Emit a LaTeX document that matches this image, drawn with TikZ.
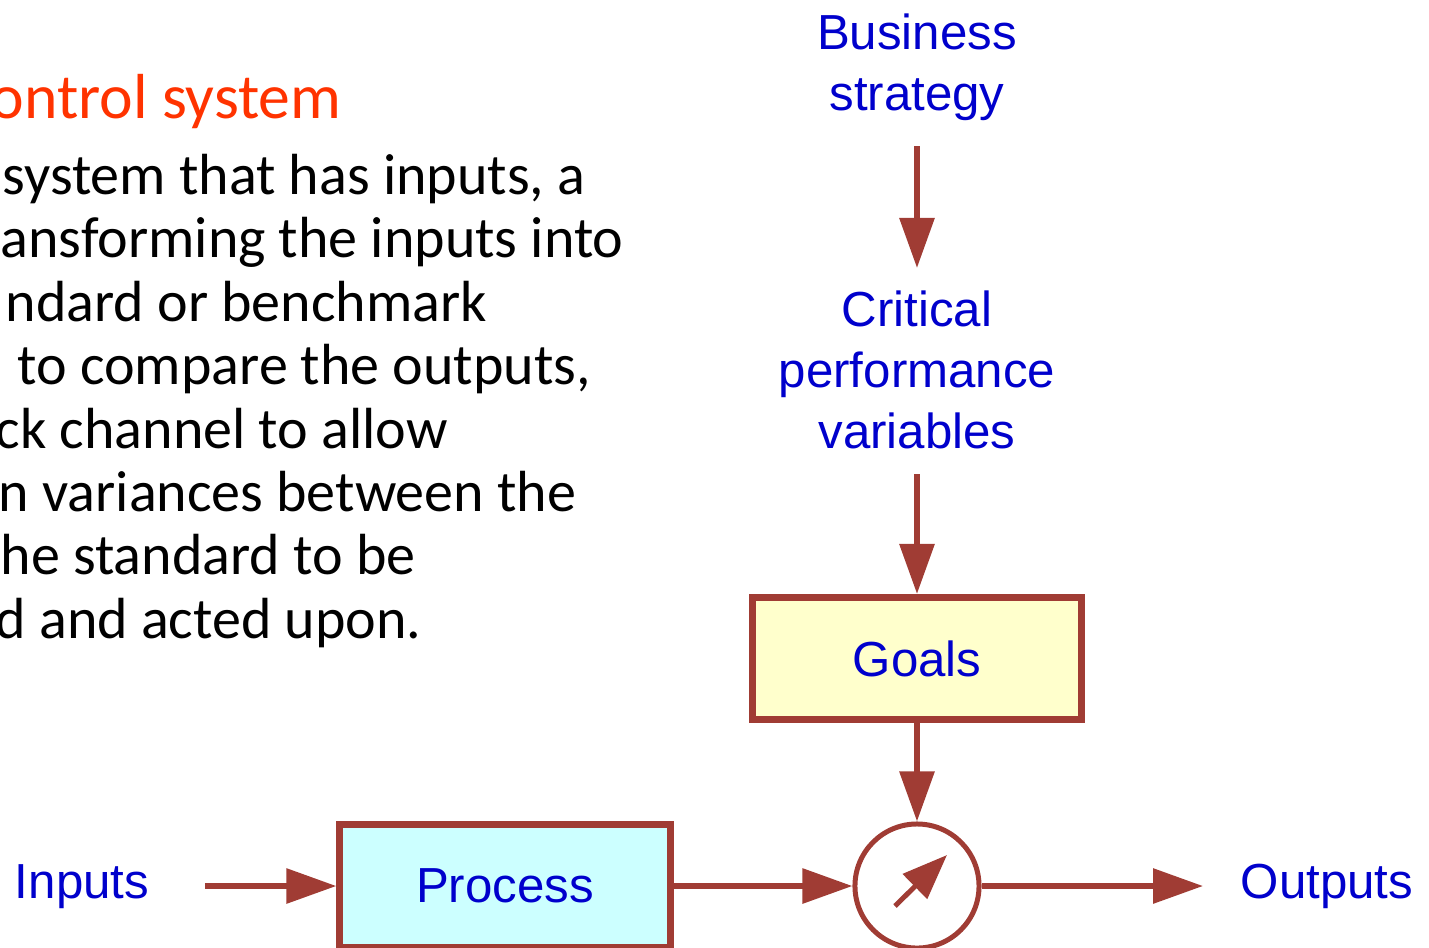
\documentclass[tikz,border=0pt]{standalone}
\usepackage{fontspec}
\setmainfont{Carlito}
\newfontfamily\diagfont{Liberation Sans}
\usetikzlibrary{arrows.meta,positioning}

\definecolor{flowred}{RGB}{160,60,52}
\definecolor{labelblue}{RGB}{0,0,204}
\definecolor{titleorange}{RGB}{255,51,0}
\definecolor{goalfill}{RGB}{255,255,204}
\definecolor{procfill}{RGB}{204,255,255}

\begin{document}
\begin{tikzpicture}[x=0.01cm,y=-0.01cm,>={Triangle[length=5mm,width=3.4mm]}]
\tikzstyle{label node}=[text=labelblue,font=\diagfont\fontsize{14}{17.3}\selectfont,align=center,inner sep=0]
\tikzstyle{box node}=[rectangle,draw=flowred,line width=0.07cm,text=labelblue,font=\diagfont\fontsize{14}{17.3}\selectfont]
\tikzstyle{line node}=[anchor=base west,inner sep=0,font=\fontsize{16.5}{19.8}\selectfont]

\tikzset{
	goal node/.style={box node,fill=goalfill,minimum width=3.28cm,minimum height=1.22cm},
	process node/.style={box node,fill=procfill,minimum width=3.30cm,minimum height=1.22cm},
	compare node/.style={circle,draw=flowred,line width=0.05cm,minimum size=1.24cm,inner sep=0},
	flow/.style={->,color=flowred,line width=0.06cm},
	needle/.style={-{Triangle[length=4.5mm,width=3.4mm]},color=flowred,line width=0.05cm}
}

    \useasboundingbox (0,0) rectangle (1429,947);

    % text on the left
    \node[line node,text=titleorange,font=\fontsize{18.1}{21}\selectfont] (title) at (-10,118) {ontrol system};
    \node[line node] (l1) at (2,194) {system that has inputs, a};
    \node[line node] (l2) at (0,257) {ansforming the inputs into};
    \node[line node] (l3) at (5,321) {ndard or benchmark};
    \node[line node] (l4) at (17,384) {to compare the outputs,};
    \node[line node] (l5) at (-5,448) {ck channel to allow};
    \node[line node] (l6) at (-2,511) {n variances between the};
    \node[line node] (l7) at (0,574) {he standard to be};
    \node[line node] (l8) at (-5,638) {d and acted upon.};

    % diagram
    \node[label node,anchor=north] (strategy) at (917,13) {Business\\strategy};
    \node[label node,anchor=north] (critical) at (917,290) {Critical\\performance\\variables};
    \node[goal node] (goals) at (917,658.5) {Goals};
    \node[compare node] (cmp) at (917,886) {};
    \node[process node] (proc) at (505,886) {Process};
    \node[label node,text height=0.35cm,text depth=0.1cm] (in) at (82,886) {Inputs};
    \node[label node,text height=0.35cm,text depth=0.1cm] (out) at (1327,886) {Outputs};

    \coordinate (needle tail) at ([shift={(-22,20)}]cmp.center);
    \coordinate (needle tip) at ([shift={(30,-31)}]cmp.center);

    \path[flow] (strategy) edge[shorten <=0.25cm,shorten >=0.22cm] (critical)
                (critical) edge[shorten <=0.25cm] (goals)
                (goals) edge (cmp)
                (in) edge[shorten <=0.55cm] (proc)
                (proc) edge (cmp)
                (cmp) edge[shorten >=0.37cm] (out);
    \draw[needle] (needle tail) -- (needle tip);
\end{tikzpicture}
\end{document}
